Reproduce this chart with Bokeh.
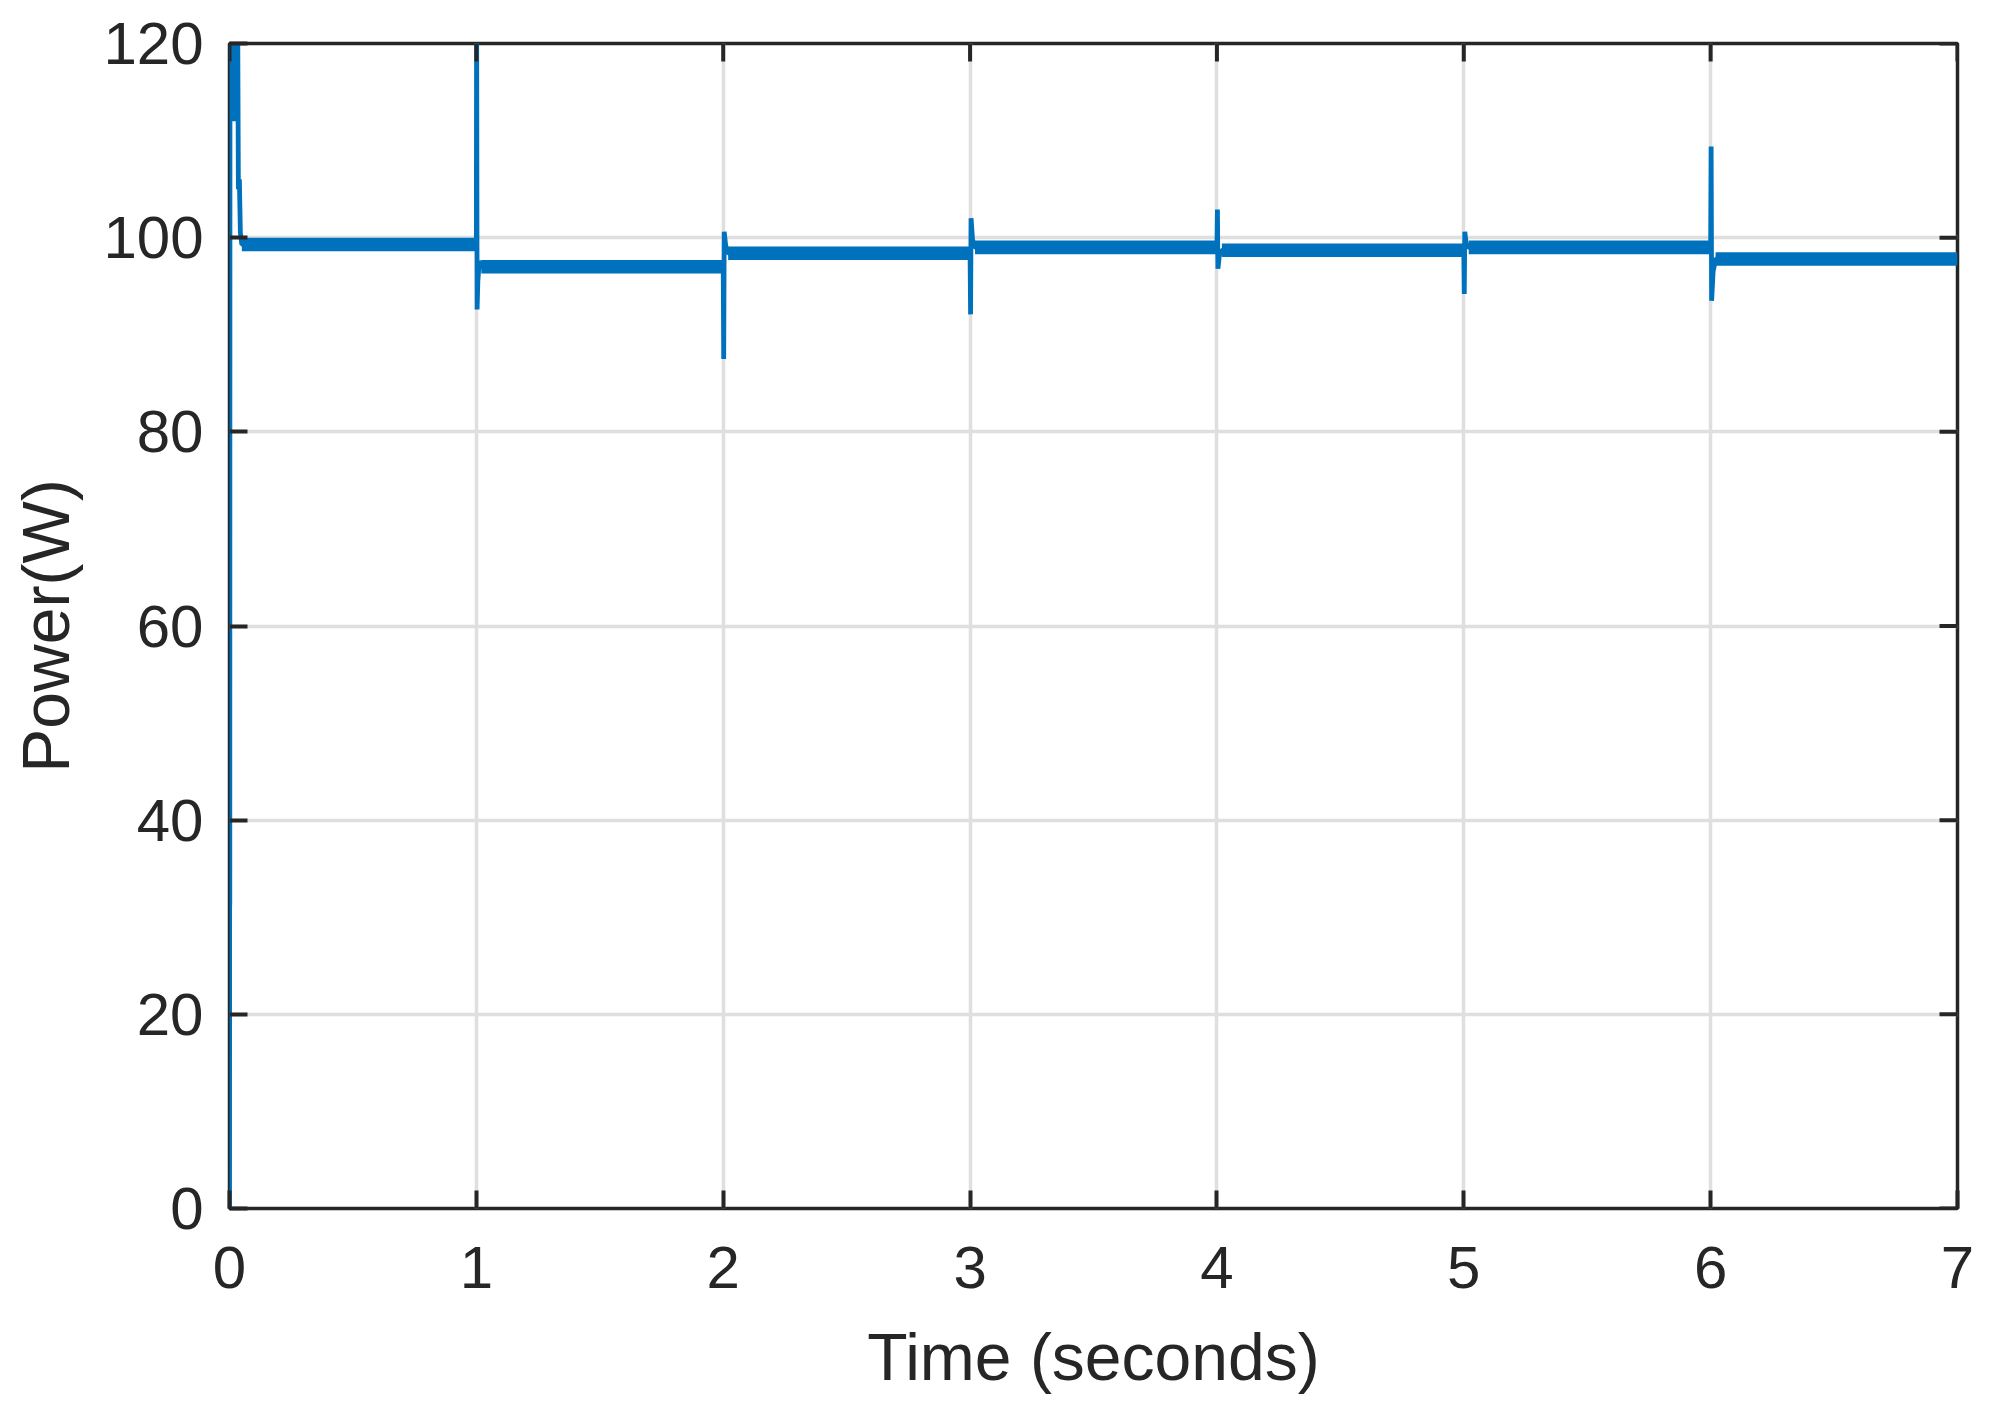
import math
from bokeh.plotting import figure
from bokeh.models import Range1d, FixedTicker
from bokeh.embed import file_html
from bokeh.resources import INLINE

# ---- data ----
x_ticks = [0, 1, 2, 3, 4, 5, 6, 7]
y_ticks = [0, 20, 40, 60, 80, 100, 120]

t_trace = [0.0, 0.0006, 0.0012, 0.002, 0.006, 0.009, 0.013, 0.017, 0.021, 0.025,
           0.029, 0.033, 0.036, 0.040, 0.044, 0.050,
           1.0, 1.001, 1.003, 1.006, 1.012, 1.02,
           2.0, 2.002, 2.004, 2.010, 2.02,
           3.0, 3.002, 3.004, 3.010, 3.02,
           4.0, 4.002, 4.004, 4.010, 4.02,
           5.0, 5.002, 5.004, 5.010, 5.02,
           6.0, 6.002, 6.004, 6.010, 6.02,
           7.0]
p_trace = [0.0, 31.0, 31.5, 128.0, 113.0, 128.0, 112.0, 127.0, 112.0, 126.0,
           112.0, 124.0, 105.0, 106.0, 100.5, 99.3,
           99.3, 126.0, 92.6, 95.5, 97.6, 97.0,
           97.0, 87.5, 100.6, 99.2, 98.4,
           98.4, 92.1, 102.0, 99.8, 99.0,
           99.0, 102.9, 96.8, 98.2, 98.7,
           98.7, 94.2, 100.6, 99.4, 99.0,
           99.0, 109.4, 93.5, 96.5, 97.8,
           97.8]

# steady-state ripple bands
band_start = [0.05, 1.02, 2.02, 3.02, 4.02, 5.02, 6.02]
band_end = [1.0, 2.0, 3.0, 4.0, 5.0, 6.0, 7.0]
band_level = [99.3, 97.0, 98.4, 99.0, 98.7, 99.0, 97.8]
ripple_pp = 1.4

# ---- styling ----
LINE = "#0072BD"
AX = "#262626"
GRID = "#DFDFDF"
FONT = "Liberation Sans"

p = figure(frame_width=1728, frame_height=1165,
           min_border_left=229, min_border_right=30,
           min_border_top=43, min_border_bottom=190,
           x_range=Range1d(0, 7), y_range=Range1d(0, 120),
           output_backend="svg", toolbar_location=None,
           background_fill_color="white", border_fill_color="white")

p.outline_line_color = AX
p.outline_line_width = 3.5

for g in (p.xgrid, p.ygrid):
    g.grid_line_color = GRID
    g.grid_line_width = 3.5
p.xgrid.ticker = FixedTicker(ticks=x_ticks)
p.ygrid.ticker = FixedTicker(ticks=y_ticks)

p.quad(left=band_start, right=band_end,
       bottom=[v - ripple_pp / 2 for v in band_level],
       top=[v + ripple_pp / 2 for v in band_level],
       fill_color=LINE, line_color=None)
p.line(t_trace, p_trace, line_color=LINE, line_width=4.8)

# inward ticks on the top and right edges (box on), clipped to the frame
p.scatter(x=x_ticks, y=[120] * len(x_ticks), marker="dash", size=36,
          angle=math.pi / 2, line_color=AX, line_width=4)
p.scatter(x=[7] * len(y_ticks), y=y_ticks, marker="dash", size=36,
          line_color=AX, line_width=4)

xa = p.xaxis[0]
ya = p.yaxis[0]
for ax, ticks in ((xa, x_ticks), (ya, y_ticks)):
    ax.ticker = FixedTicker(ticks=ticks)
    ax.axis_line_color = None
    ax.major_tick_in = 18
    ax.major_tick_out = 0
    ax.major_tick_line_color = AX
    ax.major_tick_line_width = 4
    ax.minor_tick_line_color = None
    ax.major_label_text_font = FONT
    ax.major_label_text_color = AX
    ax.major_label_text_font_size = "60px"
    ax.axis_label_text_font = FONT
    ax.axis_label_text_font_size = "66px"
    ax.axis_label_text_font_style = "normal"
    ax.axis_label_text_color = AX

xa.major_label_standoff = 38
ya.major_label_standoff = 26
xa.axis_label = "Time (seconds)"
ya.axis_label = "Power(W)"
xa.axis_label_standoff = 29
ya.axis_label_standoff = 17

open("out.html", "w").write(file_html(p, INLINE))
